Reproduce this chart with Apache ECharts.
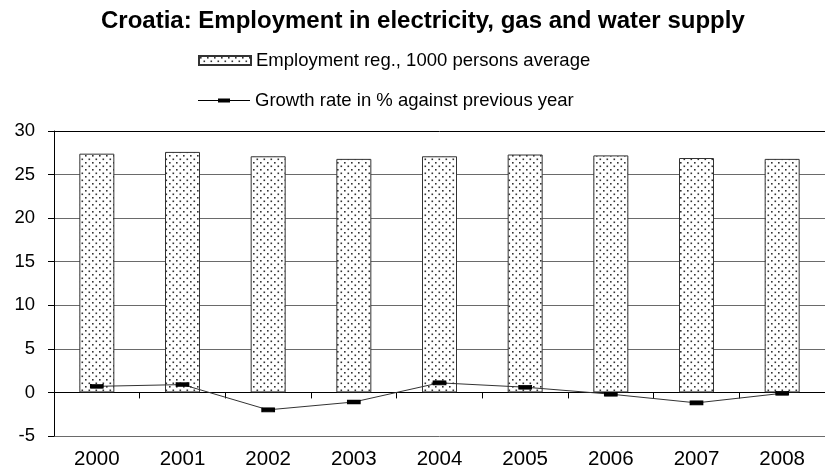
<!DOCTYPE html>
<html>
<head>
<meta charset="utf-8">
<script src="https://cdn.jsdelivr.net/npm/echarts@6/dist/echarts.min.js"></script>
<style>
html,body{margin:0;padding:0;background:#fff;}
#chart{width:825px;height:471px;}
</style>
</head>
<body>
<div id="chart"></div>
<script>
var categories = ['2000','2001','2002','2003','2004','2005','2006','2007','2008'];
var employment = [27.4, 27.6, 27.1, 26.8, 27.1, 27.3, 27.2, 26.9, 26.8];
var growthRate = [0.7, 0.9, -2.0, -1.1, 1.1, 0.6, -0.2, -1.2, -0.1];
var yTicks = [-5, 0, 5, 10, 15, 20, 25, 30];

function makePattern() {
  var c = document.createElement('canvas');
  c.width = 7; c.height = 7;
  var ctx = c.getContext('2d');
  ctx.fillStyle = '#ffffff';
  ctx.fillRect(0, 0, 7, 7);
  ctx.fillStyle = '#333333';
  ctx.fillRect(1, 1, 1.6, 1.6);
  ctx.fillRect(4.5, 4.5, 1.6, 1.6);
  return c;
}

var font = 'Liberation Sans, Arial, sans-serif';
var chart = echarts.init(document.getElementById('chart'), null, {renderer: 'canvas'});
var gridColors = yTicks.map(function (v) { return v === 30 ? '#000000' : '#6a6a6a'; });
var lineIcon = 'path://M0,4 L20,4 L20,2.5 L32,2.5 L32,4 L52,4 L52,5 L32,5 L32,6.5 L20,6.5 L20,5 L0,5 Z';

chart.setOption({
  animation: false,
  backgroundColor: '#ffffff',
  title: {
    text: 'Croatia: Employment in electricity, gas and water supply',
    left: 96,
    top: 4,
    textStyle: {fontFamily: font, fontSize: 24, fontWeight: 'bold', color: '#000'}
  },
  legend: [
    {
      data: [{name: 'Employment reg., 1000 persons average', icon: 'rect'}],
      left: 193, top: 46,
      itemWidth: 52, itemHeight: 9, itemGap: 6,
      textStyle: {fontFamily: font, fontSize: 18.5, color: '#000'}
    },
    {
      data: [{name: 'Growth rate in % against previous year', icon: lineIcon}],
      left: 193, top: 86,
      itemWidth: 52, itemHeight: 9, itemGap: 6,
      textStyle: {fontFamily: font, fontSize: 18.5, color: '#000'}
    }
  ],
  grid: {left: 54, right: -9, top: 131, bottom: 35},
  xAxis: [
    {
      type: 'category',
      data: categories,
      boundaryGap: true,
      axisLine: {show: true, onZero: true, lineStyle: {color: '#000', width: 1}},
      axisTick: {show: true, length: 6, lineStyle: {color: '#000'}},
      axisLabel: {show: false},
      splitLine: {show: false}
    },
    {
      type: 'category',
      data: categories,
      position: 'bottom',
      axisLine: {show: false, onZero: false},
      axisTick: {show: false},
      axisLabel: {show: true, margin: 13, fontFamily: font, fontSize: 20.5, color: '#000'},
      splitLine: {show: false}
    }
  ],
  yAxis: {
    type: 'value',
    min: -5, max: 30, interval: 5,
    axisLine: {show: true, lineStyle: {color: '#000', width: 1}},
    axisTick: {show: true, length: 6, lineStyle: {color: '#000'}},
    axisLabel: {margin: 19, fontFamily: font, fontSize: 18.5, color: '#000'},
    splitLine: {show: true, lineStyle: {color: gridColors, width: 1}}
  },
  series: [
    {
      name: 'Employment reg., 1000 persons average',
      type: 'bar',
      xAxisIndex: 0,
      data: employment,
      barWidth: 35,
      itemStyle: {
        color: {image: makePattern(), repeat: 'repeat'},
        borderColor: '#333',
        borderWidth: 1
      }
    },
    {
      name: 'Growth rate in % against previous year',
      type: 'line',
      xAxisIndex: 0,
      data: growthRate,
      symbol: 'rect',
      symbolSize: [12, 4],
      lineStyle: {color: '#333', width: 1},
      itemStyle: {color: '#000', borderColor: '#000'}
    }
  ]
});
</script>
</body>
</html>
